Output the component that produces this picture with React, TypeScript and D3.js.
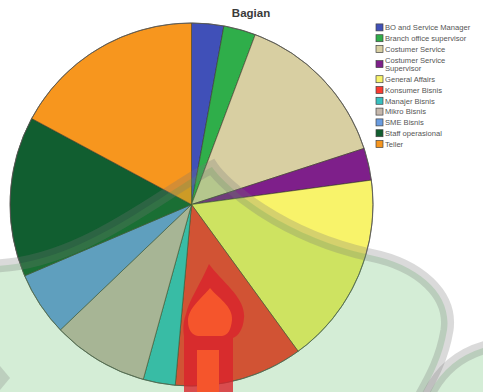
import React from "react";
import * as d3 from "d3";

const title = "Bagian";
const categories = [
  "BO and Service Manager",
  "Branch office supervisor",
  "Costumer Service",
  "Costumer Service Supervisor",
  "General Affairs",
  "Konsumer Bisnis",
  "Manajer Bisnis",
  "Mikro Bisnis",
  "SME Bisnis",
  "Staff operasional",
  "Teller",
];
const counts = [1, 1, 5, 1, 6, 4, 1, 3, 2, 5, 6];
const colors = [
  "#4050b8",
  "#2fae4a",
  "#d8cfa2",
  "#7e1f8a",
  "#f8f36a",
  "#fb3a30",
  "#38c0c0",
  "#c6b8ac",
  "#699ce0",
  "#115e30",
  "#f7961e",
];
const legendLines = [
  ["BO and Service Manager"],
  ["Branch office supervisor"],
  ["Costumer Service"],
  ["Costumer Service", "Supervisor"],
  ["General Affairs"],
  ["Konsumer Bisnis"],
  ["Manajer Bisnis"],
  ["Mikro Bisnis"],
  ["SME Bisnis"],
  ["Staff operasional"],
  ["Teller"],
];

// background watermark decoration (not data)
const wmArc =
  "M -10,266 C 80,266 165,190 212,167 C 224,185 280,235 370,255 C 420,265 452,295 447,330 C 442,360 430,380 420,398";
const wmFill = wmArc + " L -10,398 Z";
const wmArc2 = "M 427,398 Q 447,354 495,345";
const wmFill2 = wmArc2 + " L 495,398 Z";

export default function App() {
  const W = 483;
  const H = 392;
  const cx = 191.5;
  const cy = 204.5;
  const r = 181.5;

  const pie = d3.pie<number>().sort(null).value((d) => d)(counts);
  const arc = d3.arc<d3.PieArcDatum<number>>().innerRadius(0).outerRadius(r);

  const legendX = 376;
  const rowH = 10.8;
  const lineH = 8.6;
  let yCursor = 22;
  const legendItems = categories.map((c, i) => {
    const lines = legendLines[i];
    const h = rowH + (lines.length - 1) * lineH;
    const center = yCursor + h / 2;
    yCursor += h;
    return { c, i, lines, center };
  });

  const font = "'Liberation Sans', Arial, sans-serif";

  return (
    <svg
      width={W}
      height={H}
      style={{ position: "absolute", left: 0, top: 0, background: "#fff" }}
      fontFamily={font}
    >
      <rect x={0} y={0} width={W} height={H} fill="#fff" />
      <text
        x={251}
        y={17}
        textAnchor="middle"
        fontSize={11.5}
        fontWeight="bold"
        fill="#3a3a3a"
      >
        {title}
      </text>
      <g transform={`translate(${cx},${cy})`}>
        {pie.map((d, i) => (
          <path
            key={i}
            d={arc(d) || ""}
            fill={colors[i]}
            stroke="#3a3a2a"
            strokeWidth={0.8}
            strokeOpacity={0.75}
          />
        ))}
        <circle r={r} fill="none" stroke="#555" strokeWidth={0.8} />
      </g>
      <g>
        {legendItems.map((it) => (
          <g key={it.i}>
            <rect
              x={legendX}
              y={it.center - 3.5}
              width={7}
              height={7}
              fill={colors[it.i]}
              stroke="#444"
              strokeWidth={0.7}
            />
            {it.lines.map((ln, j) => (
              <text
                key={j}
                x={legendX + 9}
                y={it.center + (j - (it.lines.length - 1) / 2) * lineH + 2.7}
                fontSize={7.6}
                fill="#555"
              >
                {ln}
              </text>
            ))}
          </g>
        ))}
      </g>
      {/* watermark */}
      <g pointerEvents="none">
        <path d={wmFill} fill="rgb(60,175,70)" fillOpacity={0.22} />
        <path d={wmFill2} fill="rgb(60,175,70)" fillOpacity={0.22} />
        <path
          d={wmArc}
          fill="none"
          stroke="rgb(120,120,120)"
          strokeOpacity={0.27}
          strokeWidth={13}
        />
        <path
          d={wmArc2}
          fill="none"
          stroke="rgb(120,120,120)"
          strokeOpacity={0.27}
          strokeWidth={13}
        />
        <path
          d="M -5,360 L 10,378 L -5,396 Z"
          fill="rgb(120,120,120)"
          fillOpacity={0.25}
        />
        <path
          d="M 209,264 C 222,282 246,298 244,318 C 243,330 238,336 233,338 L 233,398 L 184,398 L 184,336 C 183,330 183,322 186,314 C 189,300 200,285 209,264 Z"
          fill="#d9232c"
          fillOpacity={0.8}
        />
        <path
          d="M 210,288 C 218,298 233,306 232,320 C 231,330 228,335 222,336 L 198,336 C 192,335 188,330 188,321 C 188,308 202,298 210,288 Z"
          fill="#f5552c"
        />
        <rect x={197} y={350} width={22} height={50} fill="#f5552c" />
      </g>
    </svg>
  );
}
